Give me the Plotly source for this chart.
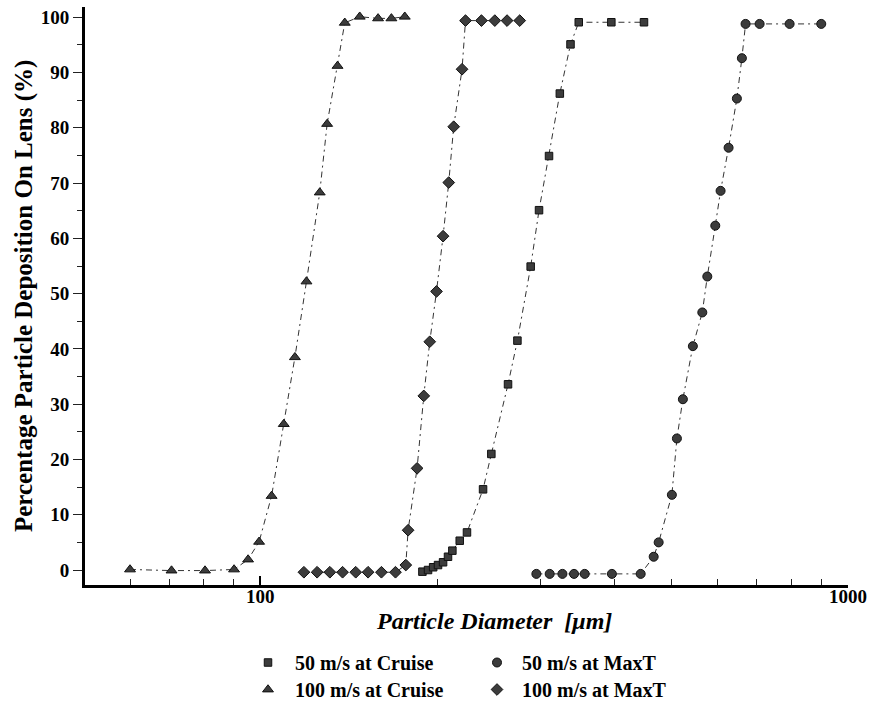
import plotly.graph_objects as go
import math

# ---- data (particle diameter in micrometres, deposition in %) ----
d_50_cruise = [188.7, 192.9, 196.8, 200.6, 204.6, 208.6, 212.2, 218.4, 224.7, 239.3, 247.2,
               263.9, 273.8, 288.4, 298.0, 309.9, 323.3, 337.1, 348.2, 395.6, 449.6]
p_50_cruise = [-0.3, 0.0, 0.5, 0.9, 1.4, 2.4, 3.5, 5.3, 6.8, 14.6, 21.0,
               33.6, 41.5, 54.9, 65.1, 74.9, 86.2, 95.1, 99.1, 99.1, 99.1]

d_100_cruise = [60.0, 70.6, 80.5, 90.2, 95.3, 99.5, 104.5, 109.6, 114.5, 119.8, 126.2,
                129.9, 135.3, 139.2, 147.6, 158.6, 167.1, 176.1]
p_100_cruise = [0.1, -0.1, -0.1, 0.1, 1.9, 5.1, 13.4, 26.4, 38.5, 52.2, 68.3,
                80.7, 91.2, 99.0, 100.1, 99.8, 99.8, 100.1]

d_50_maxt = [294.9, 310.7, 326.6, 341.8, 356.4, 396.5, 443.8, 467.0, 476.2, 501.5, 511.5,
             523.6, 544.5, 565.0, 576.2, 594.5, 607.0, 626.3, 647.0, 659.8, 669.4,
             707.3, 795.5, 900.5]
p_50_maxt = [-0.7, -0.7, -0.7, -0.7, -0.7, -0.7, -0.7, 2.4, 5.0, 13.6, 23.8,
             30.9, 40.5, 46.6, 53.1, 62.3, 68.6, 76.4, 85.3, 92.6, 98.8,
             98.8, 98.8, 98.8]

d_100_maxt = [118.6, 124.9, 131.3, 138.0, 145.3, 152.5, 160.7, 169.8, 176.8, 178.4, 184.8,
              189.7, 194.2, 199.4, 204.6, 209.2, 213.3, 220.4, 223.4, 237.8, 250.6,
              262.9, 276.3]
p_100_maxt = [-0.4, -0.4, -0.4, -0.4, -0.4, -0.4, -0.4, -0.4, 0.9, 7.2, 18.4,
              31.5, 41.3, 50.4, 60.4, 70.1, 80.2, 90.6, 99.4, 99.4, 99.4,
              99.4, 99.4]

series_names = ["50 m/s at Cruise", "100 m/s at Cruise", "50 m/s at MaxT", "100 m/s at MaxT"]
x_tick_vals = [100, 1000]
x_tick_text = ["100", "1000"]
x_minor_vals = [60, 70, 80, 90, 200, 300, 400, 500, 600, 700, 800, 900]
y_tick_vals = [0, 10, 20, 30, 40, 50, 60, 70, 80, 90, 100]

FONT = "Liberation Serif"
LINE_DASH = "6px,4px,2px,4px"

series = [
    (d_50_cruise, p_50_cruise, series_names[0], "square", 7.5, "legend"),
    (d_100_cruise, p_100_cruise, series_names[1], "triangle-up", 9.5, "legend3"),
    (d_50_maxt, p_50_maxt, series_names[2], "circle", 9, "legend2"),
    (d_100_maxt, p_100_maxt, series_names[3], "diamond", 9, "legend4"),
]

fig = go.Figure()
for xs, ys, name, sym, size, lg in series:
    fig.add_trace(go.Scatter(
        x=xs, y=ys, mode="lines", showlegend=False, hoverinfo="skip",
        line=dict(color="#333333", width=1, dash=LINE_DASH)))
for xs, ys, name, sym, size, lg in series:
    fig.add_trace(go.Scatter(
        x=xs, y=ys, mode="markers", name=name, legend=lg,
        marker=dict(symbol=sym, size=size, color="#3c3c3c",
                    line=dict(color="#111111", width=1))))

L, R, T, B = 85, 26, 7, 117
W, H = 874, 702
pw, ph = W - L - R, H - T - B

def px_x(p):
    return (p - L) / pw

def px_y(p):
    return (H - B - p) / ph

def legend_box(left_px, top_px, itemw):
    return dict(
        x=px_x(left_px), y=px_y(top_px), xanchor="left", yanchor="top",
        orientation="v", itemwidth=itemw, bgcolor="rgba(0,0,0,0)",
        font=dict(family=FONT, size=20, color="black", weight="bold"),
    )

fig.update_layout(
    width=W, height=H,
    margin=dict(l=L, r=R, t=T, b=B, autoexpand=False),
    paper_bgcolor="white", plot_bgcolor="white",
    font=dict(family=FONT, size=19, color="black"),
    xaxis=dict(
        type="log", range=[math.log10(50.3), 3],
        showgrid=False, zeroline=False, automargin=False,
        showline=True, linecolor="black", linewidth=3,
        tickmode="array", tickvals=x_tick_vals, ticktext=x_tick_text,
        ticks="inside", ticklen=9, tickwidth=1.5, tickcolor="black",
        ticklabelstandoff=-8,
        tickfont=dict(family=FONT, size=19, color="black", weight="bold"),
        minor=dict(tickmode="array", tickvals=x_minor_vals, ticks="inside",
                   ticklen=6, tickwidth=1, tickcolor="#222222"),
    ),
    yaxis=dict(
        range=[-2.71, 101.86],
        showgrid=False, zeroline=False, automargin=False,
        showline=True, linecolor="black", linewidth=3,
        tickmode="array", tickvals=y_tick_vals,
        ticks="outside", ticklen=9, tickwidth=1, tickcolor="#222222",
        tickfont=dict(family=FONT, size=19, color="black", weight="bold"),
        minor=dict(dtick=5, tick0=0, ticks="outside", ticklen=5, tickwidth=1,
                   tickcolor="#222222"),
    ),
    legend=legend_box(241, 643, 44),
    legend2=legend_box(472, 643, 40),
    legend3=legend_box(241, 670, 44),
    legend4=legend_box(472, 670, 40),
    annotations=[
        dict(text="<b><i>Particle Diameter  [\u03bcm]</i></b>", xref="paper", yref="paper",
             x=px_x(494), y=px_y(621), xanchor="center", yanchor="middle",
             showarrow=False, font=dict(family=FONT, size=24, color="black")),
        dict(text="<b>Percentage Particle Deposition On Lens (%)</b>", xref="paper", yref="paper",
             x=px_x(24), y=px_y(296), xanchor="center", yanchor="middle", textangle=-90,
             showarrow=False, font=dict(family=FONT, size=25, color="black")),
    ],
)

fig.write_html("out.html")
